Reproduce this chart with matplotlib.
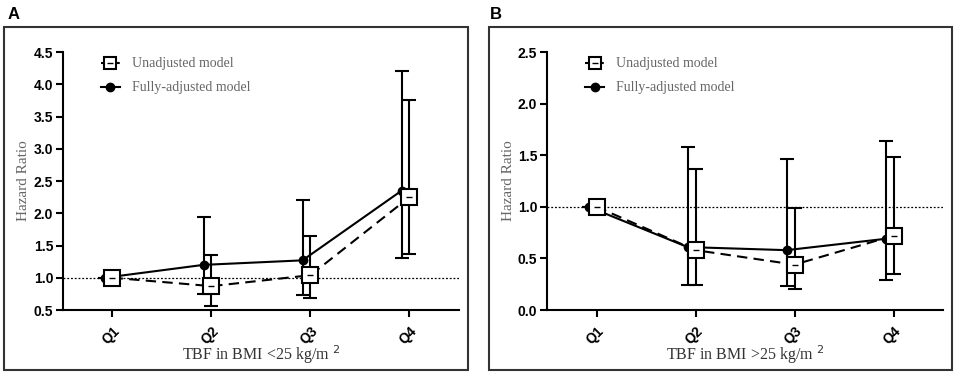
import numpy as np
import matplotlib.pyplot as plt
from matplotlib.patches import Rectangle

plt.rcParams['font.family'] = ['Liberation Sans', 'DejaVu Sans']

quartiles = ['Q1', 'Q2', 'Q3', 'Q4']

# Panel A: BMI < 25
a_unadj = [1.00, 0.87, 1.04, 2.25]
a_unadj_lo = [1.00, 0.56, 0.68, 1.37]
a_unadj_hi = [1.00, 1.35, 1.65, 3.75]
a_full = [1.00, 1.20, 1.27, 2.35]
a_full_lo = [1.00, 0.75, 0.73, 1.31]
a_full_hi = [1.00, 1.94, 2.21, 4.21]

# Panel B: BMI > 25
b_unadj = [1.00, 0.58, 0.44, 0.72]
b_unadj_lo = [1.00, 0.24, 0.20, 0.35]
b_unadj_hi = [1.00, 1.37, 0.99, 1.48]
b_full = [1.00, 0.61, 0.58, 0.69]
b_full_lo = [1.00, 0.24, 0.23, 0.29]
b_full_hi = [1.00, 1.58, 1.46, 1.64]

fig = plt.figure(figsize=(9.57, 3.75), dpi=100)

# panel frames
for x0, x1 in [(0.0042, 0.489), (0.511, 0.9948)]:
    fig.patches.append(Rectangle((x0, 0.0133), x1 - x0, 0.9147, transform=fig.transFigure,
                                 fill=False, edgecolor='#333333', linewidth=1.5))
fig.text(0.008, 0.962, 'A', fontsize=12, fontweight='bold', va='center')
fig.text(0.512, 0.962, 'B', fontsize=12, fontweight='bold', va='center')


def panel(ax, unadj, ulo, uhi, full, flo, fhi, ylim, yticks, xlabel):
    x = np.arange(1, len(quartiles) + 1)
    xf = x - 0.08
    u = np.array(unadj)
    f = np.array(full)
    ax.axhline(1.0, color='black', linestyle=(0, (1.5, 1.5)), linewidth=0.9, zorder=1)
    ax.errorbar(xf, f, yerr=[f - np.array(flo), np.array(fhi) - f], color='black',
                linestyle='-', linewidth=1.5, elinewidth=1.5, capsize=5, capthick=1.5,
                marker='o', markersize=6, zorder=3)
    ax.errorbar(x, u, yerr=[u - np.array(ulo), np.array(uhi) - u], color='black',
                linestyle=(0, (5, 3)), linewidth=1.5, elinewidth=1.5, capsize=5, capthick=1.5,
                marker='s', markersize=11, markerfacecolor='white', markeredgewidth=1.5,
                zorder=4)
    ax.plot(x, u, linestyle='none', marker='_', markersize=4, color='black', zorder=5)

    ax.set_xlim(0.5, 4.5)
    ax.set_ylim(*ylim)
    ax.set_yticks(yticks)
    ax.set_yticklabels([f'{t:.1f}' for t in yticks])
    ax.set_xticks(x)
    ax.set_xticklabels(quartiles, rotation=45, ha='right', rotation_mode='anchor')
    for s in ['top', 'right']:
        ax.spines[s].set_visible(False)
    for s in ['left', 'bottom']:
        ax.spines[s].set_linewidth(1.5)
    ax.tick_params(width=1.5, length=5, labelsize=10)
    ax.tick_params(axis='y', pad=2)
    ax.tick_params(axis='x', pad=5)
    for lab in ax.get_xticklabels() + ax.get_yticklabels():
        lab.set_fontweight('bold')
    ax.set_ylabel('Hazard Ratio', family='Liberation Serif', fontsize=11, color='#666666')
    ax.yaxis.set_label_coords(-0.082, 0.5)
    ax.set_xlabel(xlabel, family='Liberation Serif', fontsize=11.5, color='#333333', labelpad=-3)

    # legend, drawn Prism style
    ax.plot([0.095, 0.145], [0.957, 0.957], transform=ax.transAxes, color='black',
            linestyle=(0, (2, 1.5)), linewidth=1.5)
    ax.plot([0.12], [0.957], transform=ax.transAxes, marker='s', markersize=9,
            markerfacecolor='white', markeredgecolor='black', markeredgewidth=1.5)
    ax.plot([0.12], [0.957], transform=ax.transAxes, marker='_', markersize=4, color='black')
    ax.plot([0.095, 0.145], [0.864, 0.864], transform=ax.transAxes, color='black', linewidth=1.5)
    ax.plot([0.12], [0.864], transform=ax.transAxes, marker='o', markersize=6, color='black')
    ax.text(0.175, 0.957, 'Unadjusted model', transform=ax.transAxes, family='Liberation Serif',
            fontsize=10, color='#666666', va='center')
    ax.text(0.175, 0.864, 'Fully-adjusted model', transform=ax.transAxes, family='Liberation Serif',
            fontsize=10, color='#666666', va='center')


axA = fig.add_axes([0.0658, 0.1733, 0.4138, 0.688])
axB = fig.add_axes([0.5716, 0.1733, 0.4138, 0.688])

panel(axA, a_unadj, a_unadj_lo, a_unadj_hi, a_full, a_full_lo, a_full_hi,
      (0.5, 4.5), np.arange(0.5, 4.51, 0.5), r'TBF in BMI <25 kg/m $^{2}$')
panel(axB, b_unadj, b_unadj_lo, b_unadj_hi, b_full, b_full_lo, b_full_hi,
      (0.0, 2.5), np.arange(0.0, 2.51, 0.5), r'TBF in BMI >25 kg/m $^{2}$')

fig.savefig('out.png', dpi=100)
